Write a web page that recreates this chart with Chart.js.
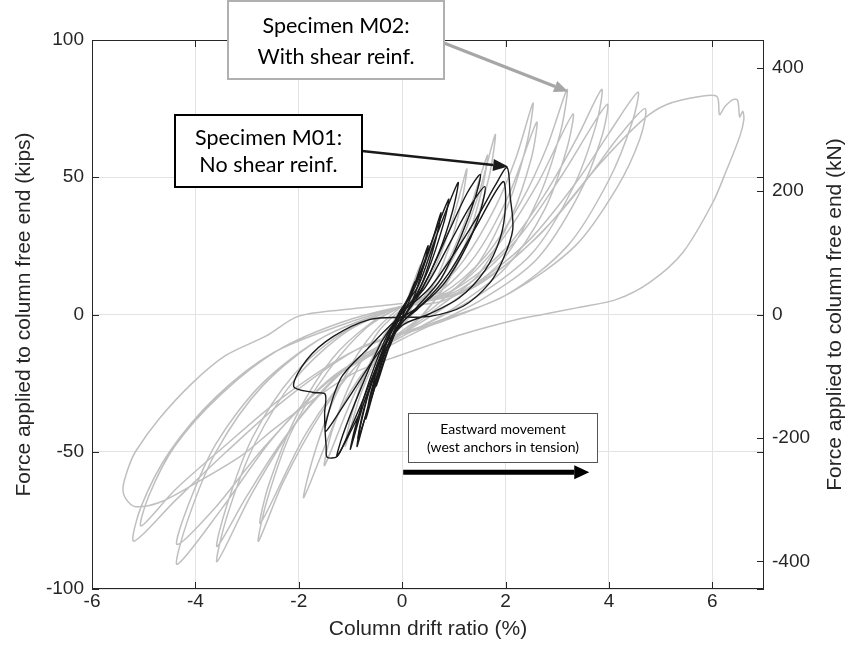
<!DOCTYPE html>
<html>
<head>
<meta charset="utf-8">
<script src="https://cdn.jsdelivr.net/npm/chart.js@4.4.1/dist/chart.umd.min.js"></script>
<style>
  html, body { margin: 0; background: #fff; }
</style>
</head>
<body>
<canvas id="hysteresis" width="851" height="652"></canvas>
<script>
// axes
const driftTicks = [-6, -4, -2, 0, 2, 4, 6];
const kipTicks = [-100, -50, 0, 50, 100];
const knTicks = [-400, -200, 0, 200, 400];
const KIP_TO_KN = 4.448;

// Specimen M02 (with shear reinf.) - [drift %, force kips]
const m02Small = [
  [0, 0], [0.15, 8], [0.35, 18], [0.28, 12], [0.1, 2], [-0.1, -5], [-0.35, -17], [-0.28, -11], [-0.1, -2],
  [0.15, 4], [0.4, 14], [0.7, 33], [0.62, 25], [0.38, 10], [0.08, -1], [-0.25, -10], [-0.45, -19], [-0.65, -32],
  [-0.58, -24], [-0.35, -10], [-0.05, 1],
  [0.3, 6], [0.7, 20], [1.0, 36], [1.25, 53], [1.16, 42], [0.9, 24], [0.5, 7], [0.05, -3], [-0.4, -13],
  [-0.8, -29], [-1.1, -48], [-1.0, -38], [-0.7, -21], [-0.3, -6], [0.05, 2],
  [0.4, 6], [0.9, 20], [1.3, 38], [1.65, 58], [1.55, 46], [1.25, 27], [0.8, 10], [0.25, -3], [-0.35, -12],
  [-0.9, -28], [-1.5, -55], [-1.35, -42], [-0.95, -23], [-0.45, -6], [0.05, 3]
];
const m02Mid = [
  [0.05, 3], [0.5, 7], [1.0, 21], [1.45, 42], [1.8, 65.5], [1.68, 50], [1.35, 30], [0.85, 11], [0.25, -3],
  [-0.45, -14], [-1.15, -33], [-1.9, -66.6], [-1.72, -52], [-1.3, -30], [-0.7, -10], [0, 3],
  [0.6, 8], [1.2, 20], [1.8, 39], [2.2, 57], [2.53, 77], [2.42, 63], [2.05, 40], [1.45, 18], [0.7, 4], [0, -6],
  [-0.8, -17], [-1.6, -37], [-2.3, -61], [-2.78, -82.6], [-2.62, -68], [-2.15, -43], [-1.45, -21], [-0.7, -5], [0, 3],
  [0.7, 8], [1.4, 21], [2.05, 43], [2.6, 70], [2.5, 57], [2.1, 35], [1.45, 14], [0.65, 2], [0, -7],
  [-0.9, -19], [-1.85, -43], [-2.74, -76], [-2.58, -62], [-2.05, -37], [-1.35, -16], [-0.6, -3], [0, 3]
];
const m02Large = [
  [0, 3], [0.8, 8], [1.6, 21], [2.3, 41], [2.8, 61], [3.19, 82], [3.07, 67], [2.65, 43], [1.95, 20], [1.0, 5],
  [0, -7], [-1.0, -18], [-2.0, -38], [-2.9, -65], [-3.58, -90], [-3.38, -73], [-2.85, -47], [-2.05, -23], [-1.05, -6], [0, 3],
  [0.9, 8], [1.8, 24], [2.6, 47], [3.3, 73], [3.18, 60], [2.75, 38], [2.0, 17], [1.05, 3], [0, -8],
  [-1.1, -20], [-2.2, -43], [-3.0, -66], [-3.58, -84.5], [-3.4, -70], [-2.9, -45], [-2.1, -22], [-1.1, -6], [0, 3],
  [1.0, 9], [2.0, 24], [2.8, 45], [3.4, 65], [3.86, 82], [3.75, 69], [3.3, 46], [2.5, 22], [1.4, 6], [0, -8],
  [-1.3, -22], [-2.5, -45], [-3.5, -71], [-4.35, -91], [-4.15, -75], [-3.6, -50], [-2.7, -26], [-1.5, -8], [0, 3],
  [1.1, 9], [2.2, 27], [3.1, 51], [3.96, 76.5], [3.85, 64], [3.4, 43], [2.6, 20], [1.5, 5], [0, -9],
  [-1.4, -24], [-2.7, -49], [-3.6, -70], [-4.35, -83.8], [-4.15, -70], [-3.6, -47], [-2.7, -25], [-1.5, -8], [0, 3]
];
const m02Final = [
  [0, 3], [1.2, 9], [2.4, 26], [3.4, 49], [4.0, 66], [4.56, 81], [4.45, 70], [4.0, 49], [3.2, 25], [2.0, 7],
  [0.6, -3], [-0.8, -12], [-2.2, -30], [-3.4, -50], [-4.4, -68], [-5.19, -82.6], [-5.05, -70], [-4.5, -50],
  [-3.6, -30], [-2.5, -14], [-1.2, -4], [0, 3],
  [1.3, 9], [2.6, 28], [3.6, 50], [4.2, 65], [4.7, 75], [4.6, 64], [4.15, 46], [3.35, 25], [2.1, 8], [0.7, -3],
  [-0.9, -13], [-2.3, -30], [-3.5, -49], [-4.4, -64], [-5.05, -77], [-4.9, -66], [-4.4, -48], [-3.5, -29],
  [-2.4, -13], [-1.2, -3], [0, 3],
  [0.8, 5], [2.0, 18], [3.0, 36], [3.83, 55], [4.66, 71], [5.12, 76.5], [5.76, 79.4], [6.09, 79.4], [6.14, 72.8],
  [6.24, 75.7], [6.4, 78.3], [6.49, 78], [6.53, 72], [6.59, 74], [6.61, 71], [6.53, 64.8], [6.28, 52.8],
  [6.01, 40.8], [5.43, 22.6], [4.79, 11.7], [4.15, 5.5], [3.4, 2.5], [2.72, 0], [2.22, -1.8], [1.2, -7],
  [0, -14.6], [-0.9, -21], [-1.72, -31], [-2.5, -42], [-3.13, -51.7], [-4.1, -62.6], [-4.7, -68.5], [-5.16, -70],
  [-5.35, -67], [-5.4, -63], [-5.3, -56], [-5.16, -50], [-4.7, -38], [-4.06, -25], [-3.42, -15], [-2.64, -7.9],
  [-2.0, -0.6], [-1.0, 2], [0, 4]
];

// Specimen M01 (no shear reinf.)
const m01Elastic = [
  [0, 0], [0.12, 6], [0.25, 12], [0.18, 7], [0, -1], [-0.12, -6], [-0.25, -12], [-0.18, -7], [0, 1],
  [0.2, 9], [0.5, 25], [0.42, 18], [0.2, 5], [0, -2], [-0.2, -9], [-0.5, -26], [-0.42, -18], [-0.2, -5], [0, 2],
  [0.3, 13], [0.6, 28], [0.9, 42], [0.8, 33], [0.5, 16], [0.1, 1], [-0.2, -9], [-0.5, -25], [-0.85, -45],
  [-0.75, -35], [-0.45, -17], [-0.1, -2], [0.05, 2]
];
const m01Mid = [
  [0, 2], [0.25, 10], [0.5, 22], [0.75, 37], [0.66, 28], [0.4, 12], [0.1, 1], [-0.15, -6], [-0.4, -18],
  [-0.7, -38], [-0.6, -28], [-0.35, -12], [-0.05, 1], [0.3, 10], [0.65, 28], [1.08, 48], [0.98, 38], [0.7, 22],
  [0.35, 8], [0, -2], [-0.25, -10], [-0.55, -26], [-0.87, -48], [-0.8, -40], [-0.55, -22], [-0.2, -5], [0.05, 2]
];
const m01Late = [
  [0.05, 2], [0.4, 10], [0.9, 30], [1.25, 44], [1.51, 51], [1.42, 43], [1.15, 29], [0.75, 13], [0.3, 3], [0, -3],
  [-0.3, -12], [-0.7, -30], [-1.0, -49], [-0.92, -42], [-0.65, -25], [-0.3, -8], [0.05, 2], [0.45, 10], [0.95, 27],
  [1.3, 39], [1.6, 46.6], [1.52, 38], [1.25, 25], [0.8, 11], [0.3, 2], [0, -3], [-0.35, -14], [-0.8, -35],
  [-1.26, -51.7], [-1.15, -44], [-0.8, -27], [-0.4, -10], [0, 1]
];
const m01Failure = [
  [0, 1], [0.5, 9], [1.0, 22], [1.5, 37], [1.8, 47], [2.03, 53.5], [2.09, 43], [2.14, 31], [1.95, 20],
  [1.7, 11.6], [1.18, 3], [0.54, -0.7], [0, -1], [-0.62, -1.8], [-1.33, -8], [-1.84, -16.4], [-2.1, -26.2],
  [-1.72, -28.4], [-1.49, -29], [-1.5, -36], [-1.49, -42.6], [-1.47, -48], [-1.45, -52], [-1.26, -51.7],
  [-1.1, -46], [-0.8, -33], [-0.45, -17], [-0.1, -3], [0.4, 4], [0.9, 15], [1.4, 31], [1.95, 48.4], [2.0, 40],
  [1.9, 28], [1.6, 16], [1.1, 6], [0.5, 0], [0, -4], [-0.5, -15], [-1.06, -31], [-1.49, -42.6], [-1.2, -23.7],
  [-0.68, -12.7], [-0.1, -1.8], [0.3, 2]
];

const toPoints = path => path.map(([x, y]) => ({ x, y }));
const line = (path, color, width, order) => ({
  data: toPoints(path),
  showLine: true,
  borderColor: color,
  borderWidth: width,
  pointRadius: 0,
  tension: 0.3,
  order: order
});

const AXIS = '#262626';
const FONT = '"Liberation Sans", Arial, Helvetica, sans-serif';
const NOTE_FONT = 'Lato, "Open Sans", sans-serif';

function arrow(ctx, x0, y0, x1, y1, color, width, headLen, headHalf) {
  const ang = Math.atan2(y1 - y0, x1 - x0);
  const bx = x1 - headLen * Math.cos(ang), by = y1 - headLen * Math.sin(ang);
  ctx.strokeStyle = color;
  ctx.fillStyle = color;
  ctx.lineWidth = width;
  ctx.beginPath();
  ctx.moveTo(x0, y0);
  ctx.lineTo(bx, by);
  ctx.stroke();
  ctx.beginPath();
  ctx.moveTo(x1, y1);
  ctx.lineTo(bx + headHalf * Math.sin(ang), by - headHalf * Math.cos(ang));
  ctx.lineTo(bx - headHalf * Math.sin(ang), by + headHalf * Math.cos(ang));
  ctx.closePath();
  ctx.fill();
}

function noteBox(ctx, l, t, r, b, stroke, width, lines, size) {
  ctx.fillStyle = '#fff';
  ctx.fillRect(l, t, r - l, b - t);
  ctx.strokeStyle = stroke;
  ctx.lineWidth = width;
  ctx.strokeRect(l, t, r - l, b - t);
  ctx.fillStyle = '#000';
  ctx.font = size + 'px ' + NOTE_FONT;
  ctx.textAlign = 'center';
  ctx.textBaseline = 'middle';
  lines.forEach(([txt, cy]) => ctx.fillText(txt, (l + r) / 2, cy));
}

const frame = {
  id: 'frame',
  afterDraw(chart) {
    const { ctx, chartArea: a } = chart;
    const { x, y, y2 } = chart.scales;
    const t = 7;
    ctx.save();
    ctx.strokeStyle = AXIS;
    ctx.lineWidth = 1;
    ctx.strokeRect(a.left + 0.5, a.top + 0.5, a.right - a.left - 1, a.bottom - a.top - 1);
    ctx.beginPath();
    driftTicks.forEach(v => {
      const px = Math.round(x.getPixelForValue(v)) + 0.5;
      ctx.moveTo(px, a.bottom); ctx.lineTo(px, a.bottom - t);
      ctx.moveTo(px, a.top); ctx.lineTo(px, a.top + t);
    });
    kipTicks.forEach(v => {
      const py = Math.round(y.getPixelForValue(v)) + 0.5;
      ctx.moveTo(a.left, py); ctx.lineTo(a.left + t, py);
      ctx.moveTo(a.right, py); ctx.lineTo(a.right - t, py);
    });
    knTicks.forEach(v => {
      const py = Math.round(y2.getPixelForValue(v)) + 0.5;
      ctx.moveTo(a.right, py); ctx.lineTo(a.right - t, py);
    });
    ctx.stroke();

    // right-hand axis title, reading upward like the left one
    ctx.save();
    ctx.translate(835, (a.top + a.bottom) / 2);
    ctx.rotate(-Math.PI / 2);
    ctx.fillStyle = AXIS;
    ctx.font = '21px ' + FONT;
    ctx.textAlign = 'center';
    ctx.textBaseline = 'middle';
    ctx.fillText('Force applied to column free end (kN)', 0, 0);
    ctx.restore();

    // call-outs
    const m02Tip = [x.getPixelForValue(3.21), y.getPixelForValue(81.2)];
    const m01Tip = [x.getPixelForValue(2.05), y.getPixelForValue(53.9)];
    arrow(ctx, 444, 43, m02Tip[0], m02Tip[1], '#a6a6a6', 3, 14, 6);
    noteBox(ctx, 228, 1, 444, 79, '#b0b0b0', 2, [['Specimen M02:', 26], ['With shear reinf.', 57]], 21.5);
    arrow(ctx, 362, 151, m01Tip[0], m01Tip[1], '#1a1a1a', 2.5, 15, 6);
    noteBox(ctx, 175, 115, 362, 187, '#000', 2, [['Specimen M01:', 138], ['No shear reinf.', 165]], 21.5);

    noteBox(ctx, 408.5, 413.5, 597.5, 462.5, '#555', 1, [['Eastward movement', 429], ['(west anchors in tension)', 447]], 14);
    const ay = y.getPixelForValue(-57.5);
    arrow(ctx, x.getPixelForValue(0.02), ay, x.getPixelForValue(3.62), ay, '#000', 5, 15, 7);
    ctx.restore();
  }
};

new Chart(document.getElementById('hysteresis'), {
  type: 'scatter',
  data: {
    datasets: [
      line(m01Elastic, '#1a1a1a', 1.4, 0),
      line(m01Mid, '#1a1a1a', 1.4, 0),
      line(m01Late, '#1a1a1a', 1.4, 0),
      line(m01Failure, '#1a1a1a', 1.4, 0),
      line(m02Small, '#bfbfbf', 1.5, 1),
      line(m02Mid, '#bfbfbf', 1.5, 1),
      line(m02Large, '#bfbfbf', 1.5, 1),
      line(m02Final, '#bfbfbf', 1.5, 1)
    ]
  },
  options: {
    responsive: false,
    animation: false,
    devicePixelRatio: 1,
    layout: { padding: { top: 40, left: 0, right: 0, bottom: 0 } },
    plugins: { legend: { display: false }, tooltip: { enabled: false } },
    scales: {
      x: {
        type: 'linear',
        min: -6,
        max: 7,
        afterBuildTicks: s => { s.ticks = driftTicks.map(v => ({ value: v })); },
        afterFit: s => { s.height = 63; },
        grid: { color: '#e3e3e3', drawTicks: false },
        border: { display: false },
        ticks: { color: AXIS, padding: 1, font: { family: FONT, size: 19 }, maxRotation: 0 },
        title: { display: true, text: 'Column drift ratio (%)', color: AXIS, font: { family: FONT, size: 21 }, padding: { top: 0, bottom: 10 } }
      },
      y: {
        type: 'linear',
        position: 'left',
        min: -100,
        max: 100,
        afterBuildTicks: s => { s.ticks = kipTicks.map(v => ({ value: v })); },
        afterFit: s => { s.width = 92; },
        grid: { color: '#e3e3e3', drawTicks: false },
        border: { display: false },
        ticks: { color: AXIS, padding: 8, font: { family: FONT, size: 19 } },
        title: { display: true, text: 'Force applied to column free end (kips)', color: AXIS, font: { family: FONT, size: 21 }, padding: { top: 12, bottom: 0 } }
      },
      y2: {
        type: 'linear',
        position: 'right',
        min: -100 * KIP_TO_KN,
        max: 100 * KIP_TO_KN,
        afterBuildTicks: s => { s.ticks = knTicks.map(v => ({ value: v })); },
        afterFit: s => { s.width = 87; },
        grid: { display: false, drawTicks: false },
        border: { display: false },
        ticks: { color: AXIS, padding: 8, font: { family: FONT, size: 19 } }
      }
    }
  },
  plugins: [frame]
});
</script>
</body>
</html>
